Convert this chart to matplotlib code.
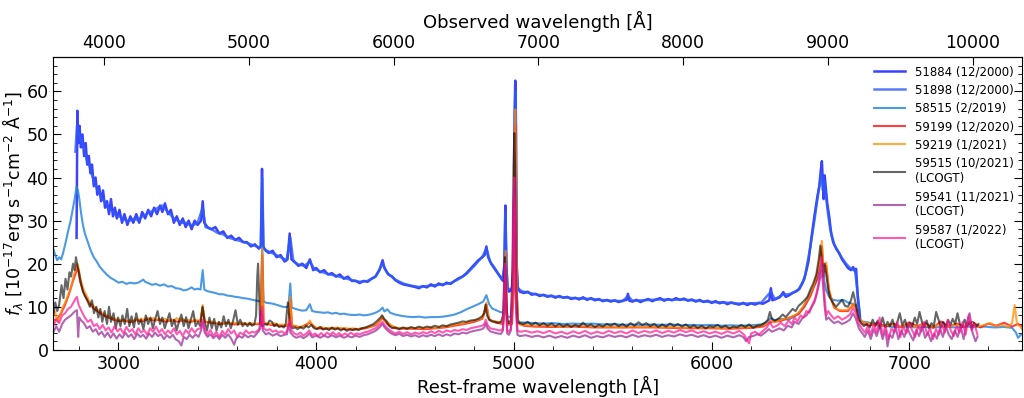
import numpy as np
import matplotlib
matplotlib.use("Agg")
import matplotlib.pyplot as plt
from matplotlib.ticker import MultipleLocator

# redshift used for the observed-frame axis on top
Z = 0.366

# (rest wavelength [A], flux [1e-17 erg/s/cm2/A])
spec_51884 = [
    (2788, 26), (2792, 55.5), (2797, 48), (2803, 52), (2810, 47), (2818, 50), (2826, 45), (2834, 48),
    (2842, 43), (2850, 45), (2858, 41), (2866, 43), (2875, 38), (2884, 40), (2893, 36), (2902, 38),
    (2912, 34.5), (2922, 37), (2932, 33), (2942, 34.5), (2952, 31.5), (2962, 35), (2972, 31), (2982, 33),
    (2992, 30.5), (3005, 32.5), (3018, 29.5), (3030, 31.5), (3045, 29), (3060, 31), (3075, 29.5),
    (3090, 31.5), (3105, 29.5), (3120, 32), (3135, 30.5), (3150, 32.5), (3165, 31), (3180, 33),
    (3195, 31.5), (3210, 33.5), (3222, 32), (3235, 34), (3250, 31.5), (3265, 32.5), (3280, 29.5),
    (3295, 31), (3310, 29), (3325, 30.5), (3340, 28.5), (3355, 30), (3370, 28), (3385, 30), (3400, 29),
    (3418, 30), (3426, 34.5), (3434, 29.5), (3450, 28.5), (3470, 28), (3490, 28.5), (3510, 27),
    (3530, 27.5), (3550, 26), (3570, 26.5), (3590, 25.5), (3610, 26), (3630, 25), (3650, 25),
    (3670, 24), (3690, 24.5), (3710, 23.5), (3720, 24), (3726, 42), (3732, 24), (3745, 23),
    (3760, 22.5), (3780, 23), (3800, 21.5), (3820, 22), (3840, 20.5), (3855, 21), (3866, 27),
    (3875, 21), (3890, 20.5), (3910, 19.5), (3930, 20), (3950, 19), (3968, 21), (3985, 18.5),
    (4000, 19), (4020, 18), (4040, 18.5), (4060, 17.5), (4080, 17.8), (4100, 17), (4120, 17.5),
    (4140, 16.5), (4160, 17), (4180, 16), (4200, 16), (4220, 15.5), (4240, 16), (4260, 15.8),
    (4280, 16.5), (4300, 17), (4320, 18.5), (4336, 20.8), (4345, 19), (4365, 17.5), (4385, 17),
    (4400, 16.2), (4420, 15.6), (4440, 15.2), (4460, 15), (4480, 14.8), (4500, 14.6), (4520, 14.3),
    (4540, 14.8), (4560, 14.5), (4580, 15.2), (4600, 14.7), (4620, 15.4), (4640, 15), (4660, 15.6),
    (4680, 15.3), (4700, 16), (4720, 16.6), (4740, 17), (4760, 17.8), (4780, 18.8), (4800, 19.8),
    (4820, 20.8), (4840, 21.5), (4852, 22), (4861, 24), (4870, 21.5), (4885, 20), (4900, 19),
    (4915, 18), (4930, 17), (4945, 16), (4952, 20), (4957, 33.5), (4962, 20), (4968, 14.5),
    (4975, 13.5), (4990, 14), (5000, 20), (5004, 55), (5007, 62.5), (5010, 55), (5014, 20),
    (5020, 14.5), (5030, 13.5), (5050, 13.2), (5070, 13.5), (5090, 12.8), (5110, 13), (5130, 12.5),
    (5150, 12.8), (5170, 12.3), (5190, 12.6), (5210, 12.1), (5230, 12.5), (5250, 12.1), (5270, 12.3),
    (5290, 11.8), (5310, 12.1), (5330, 11.7), (5350, 12.2), (5370, 11.6), (5390, 12), (5410, 11.5),
    (5430, 11.8), (5450, 11.3), (5470, 11.6), (5490, 11.2), (5510, 11.5), (5530, 11.1), (5550, 11.4),
    (5570, 11.6), (5577, 13), (5584, 11.4), (5600, 11.2), (5620, 11.6), (5640, 11.1), (5660, 11.5),
    (5680, 11.8), (5700, 11.3), (5720, 11.7), (5740, 12), (5760, 11.4), (5780, 11.8), (5800, 11.5),
    (5820, 12), (5840, 11.6), (5860, 11.9), (5880, 11.4), (5900, 11.7), (5920, 11.2), (5940, 11.6),
    (5960, 11.1), (5980, 11.4), (6000, 10.9), (6020, 11.3), (6040, 10.8), (6060, 11.1), (6080, 10.6),
    (6100, 11), (6120, 10.7), (6140, 10.5), (6160, 10.9), (6180, 10.4), (6200, 10.8), (6220, 10.5),
    (6240, 10.9), (6260, 10.7), (6280, 11.2), (6292, 11.5), (6300, 14.3), (6308, 11.5), (6325, 11.8),
    (6345, 12.2), (6363, 13.4), (6375, 12.3), (6390, 12.6), (6410, 13.2), (6430, 13.6), (6445, 14.2),
    (6460, 15.5), (6475, 17.5), (6490, 20.5), (6505, 26), (6520, 31), (6535, 35.5), (6545, 38),
    (6552, 41.5), (6558, 43.8), (6563, 39), (6567, 35), (6572, 40.5), (6577, 38), (6585, 34),
    (6595, 31), (6605, 27), (6615, 25), (6630, 23.5), (6645, 22.5), (6660, 21), (6675, 20),
    (6690, 19), (6705, 18.5), (6716, 19.2), (6725, 18.2), (6731, 18.8), (6740, 12), (6752, 7),
]

spec_51898 = [
    (2782, 46), (2790, 52), (2800, 50), (2812, 48.5), (2825, 47), (2840, 44), (2855, 42.5), (2870, 40),
    (2885, 38), (2900, 37), (2915, 35), (2930, 34.5), (2945, 33), (2960, 32.5), (2975, 32), (2990, 31),
    (3005, 31), (3020, 30.5), (3040, 30), (3060, 30), (3080, 30.5), (3100, 30), (3120, 31), (3140, 31.5),
    (3160, 32), (3180, 32.5), (3200, 33), (3220, 33.5), (3240, 32.5), (3260, 31.5), (3280, 30.5),
    (3300, 30), (3320, 29.5), (3340, 29.5), (3360, 29), (3380, 29), (3400, 29.5), (3426, 33),
    (3440, 28.5), (3470, 28), (3500, 27.2), (3530, 26.8), (3560, 26), (3590, 25.6), (3620, 25.2),
    (3650, 24.8), (3680, 24.3), (3710, 23.8), (3720, 24), (3727, 40), (3734, 23.5), (3760, 22.8),
    (3790, 22.2), (3820, 21.5), (3850, 20.8), (3869, 26), (3885, 20.5), (3910, 19.8), (3940, 19.5),
    (3968, 20.5), (3990, 18.8), (4020, 18.2), (4060, 17.6), (4100, 17.2), (4140, 16.7), (4180, 16.2),
    (4220, 15.8), (4260, 16), (4300, 17), (4336, 20), (4360, 17.8), (4400, 16.3), (4440, 15.4),
    (4480, 14.9), (4520, 14.6), (4560, 14.8), (4600, 15), (4640, 15.2), (4680, 15.5), (4720, 16.4),
    (4760, 17.6), (4800, 19.5), (4840, 21.6), (4861, 23.5), (4880, 20.5), (4910, 18.5), (4940, 16.3),
    (4952, 19), (4957, 32), (4962, 19), (4968, 14), (4990, 14.2), (5000, 19), (5004, 52), (5007, 60),
    (5010, 52), (5014, 19), (5020, 14.3), (5040, 13.6), (5080, 13.2), (5120, 12.8), (5160, 12.6),
    (5200, 12.4), (5250, 12.2), (5300, 12), (5350, 11.9), (5400, 11.8), (5450, 11.5), (5500, 11.4),
    (5550, 11.3), (5577, 12.5), (5600, 11.4), (5650, 11.5), (5700, 11.6), (5750, 11.7), (5800, 11.6),
    (5850, 11.7), (5900, 11.5), (5950, 11.3), (6000, 11.1), (6050, 11), (6100, 10.9), (6150, 10.7),
    (6200, 10.8), (6250, 10.9), (6300, 13.5), (6320, 11.8), (6363, 12.8), (6400, 13), (6440, 14),
    (6470, 16.5), (6500, 24), (6520, 30), (6540, 36.5), (6556, 41), (6563, 37), (6572, 39), (6585, 33),
    (6600, 28), (6620, 24.5), (6650, 22), (6680, 20), (6710, 18.6), (6725, 18.8), (6740, 12.5), (6750, 8),
]

spec_58515 = [
    (2670, 23.5), (2680, 22), (2690, 20.8), (2700, 21.5), (2710, 21), (2720, 22.5), (2733, 25),
    (2745, 27.5), (2758, 30), (2770, 33), (2780, 35.5), (2788, 37.8), (2795, 37), (2802, 35),
    (2810, 32), (2820, 29), (2830, 27), (2845, 25), (2860, 23), (2875, 21.5), (2890, 20.5),
    (2905, 19.3), (2920, 18.5), (2940, 17.5), (2960, 16.7), (2980, 16.2), (3000, 15.6), (3020, 15.8),
    (3040, 15.3), (3060, 15.6), (3080, 15.4), (3100, 15.6), (3115, 16), (3125, 16.3), (3135, 15.8),
    (3150, 15.5), (3170, 15.1), (3190, 15.3), (3210, 14.9), (3230, 15.2), (3250, 14.7), (3270, 14.8),
    (3290, 14.3), (3310, 14.2), (3330, 13.8), (3350, 14), (3370, 14.5), (3385, 14), (3400, 14.2),
    (3415, 14), (3426, 18.5), (3434, 14), (3450, 13.6), (3470, 13.4), (3490, 13.2), (3510, 12.9),
    (3530, 12.9), (3550, 12.6), (3570, 12.5), (3590, 12.3), (3610, 12.2), (3630, 12), (3650, 11.9),
    (3670, 11.7), (3690, 11.5), (3710, 11.3), (3720, 11.3), (3727, 24), (3734, 11.2), (3750, 10.9),
    (3770, 10.8), (3790, 10.6), (3810, 10.3), (3830, 10), (3850, 9.9), (3860, 10.2), (3869, 15.4),
    (3876, 9.8), (3890, 9.6), (3910, 9.3), (3930, 9.1), (3950, 9.2), (3968, 10.6), (3980, 9),
    (4000, 8.8), (4020, 8.7), (4040, 8.6), (4060, 8.7), (4080, 8.4), (4100, 8.6), (4120, 8.3),
    (4140, 8.4), (4160, 8.2), (4180, 8.1), (4200, 8.1), (4220, 8.2), (4240, 8), (4260, 8.1),
    (4280, 8.3), (4300, 8.6), (4320, 9.1), (4336, 9.8), (4345, 8.9), (4360, 9.4), (4375, 8.6),
    (4400, 8.2), (4430, 7.9), (4460, 7.7), (4490, 7.6), (4520, 7.7), (4550, 7.5), (4580, 7.6),
    (4610, 7.6), (4640, 7.7), (4670, 7.9), (4700, 8.2), (4730, 8.7), (4760, 9.4), (4790, 10),
    (4820, 10.6), (4845, 11.2), (4861, 12.7), (4875, 10.6), (4890, 9.6), (4910, 9.2), (4930, 8.8),
    (4945, 8.6), (4952, 10), (4958, 19), (4964, 9), (4970, 7.5), (4985, 7.8), (5000, 15), (5004, 40),
    (5007, 50), (5010, 40), (5014, 15), (5020, 7), (5030, 6.4), (5060, 6.3), (5100, 6.2), (5150, 6.1),
    (5200, 6.2), (5250, 6), (5300, 6.1), (5350, 6), (5400, 6.1), (5450, 5.9), (5500, 6), (5550, 5.8),
    (5600, 5.9), (5650, 5.7), (5700, 5.9), (5750, 5.8), (5800, 5.9), (5850, 5.7), (5900, 5.8),
    (5950, 5.7), (6000, 5.8), (6050, 5.6), (6100, 5.7), (6150, 5.6), (6200, 5.7), (6250, 5.9),
    (6280, 6.4), (6300, 7.4), (6320, 6.8), (6350, 7.2), (6390, 7), (6420, 7.8), (6440, 8.5),
    (6465, 10), (6490, 12.3), (6515, 14.6), (6540, 16.9), (6555, 19.8), (6562, 20), (6570, 16),
    (6580, 13.8), (6595, 12.3), (6615, 11.6), (6640, 11.4), (6666, 11.6), (6690, 11), (6716, 10.6),
    (6730, 10.4), (6742, 7.5), (6760, 6.6), (6790, 6.4), (6830, 5.8), (6880, 5.5), (6930, 5.3),
    (6980, 5.4), (7030, 5.2), (7080, 5.3), (7130, 5.2), (7180, 5.4), (7230, 5.2), (7280, 5.4),
    (7330, 5.3), (7380, 5.4), (7430, 5.2), (7480, 5.3), (7520, 5.1), (7540, 4), (7550, 2.8), (7565, 3.5),
]

spec_59199 = [
    (2670, 6.8), (2690, 7.2), (2710, 8.5), (2730, 10.5), (2750, 13), (2770, 16), (2785, 18),
    (2793, 19.5), (2805, 16), (2820, 13.8), (2840, 11.8), (2860, 10.3), (2880, 9.4), (2900, 8.8),
    (2925, 8), (2950, 7.5), (2975, 7), (3000, 6.7), (3030, 6.8), (3060, 6.4), (3090, 6.9), (3120, 6.6),
    (3150, 7.2), (3180, 6.8), (3210, 7), (3240, 6.5), (3270, 6.9), (3300, 6.5), (3330, 6.9), (3360, 6.4),
    (3390, 6.8), (3415, 6.7), (3426, 9.8), (3436, 6.5), (3470, 6.3), (3510, 6), (3550, 6.2), (3590, 5.9),
    (3630, 6.1), (3670, 5.9), (3710, 6), (3720, 6.3), (3727, 22), (3734, 6.2), (3770, 5.8), (3810, 5.6),
    (3850, 5.5), (3860, 5.8), (3869, 11.5), (3878, 5.6), (3920, 5.2), (3968, 6.3), (4000, 5),
    (4050, 4.9), (4100, 5), (4150, 4.8), (4200, 4.7), (4250, 5), (4300, 5.7), (4336, 7.4), (4360, 6),
    (4400, 5), (4450, 4.9), (4500, 4.9), (4550, 4.8), (4600, 5), (4650, 5.2), (4700, 5.6), (4750, 6),
    (4800, 6.5), (4840, 7.2), (4861, 10.5), (4875, 7), (4910, 6.3), (4945, 6), (4952, 8.5), (4958, 22),
    (4964, 8.5), (4970, 5.8), (4990, 6), (5000, 14), (5004, 42), (5007, 52), (5010, 42), (5014, 14),
    (5020, 6.2), (5050, 5.6), (5100, 5.4), (5200, 5.3), (5300, 5.4), (5400, 5.2), (5500, 5.2),
    (5600, 5.2), (5700, 5.2), (5800, 5.1), (5900, 5), (6000, 5), (6100, 4.9), (6200, 5.1), (6260, 5.4),
    (6300, 6.5), (6350, 6.7), (6400, 7.6), (6440, 8.3), (6470, 10), (6500, 12.5), (6530, 16),
    (6550, 21), (6558, 24), (6565, 19.5), (6580, 19.5), (6595, 13.5), (6620, 9.8), (6650, 9),
    (6690, 9), (6716, 10.5), (6730, 9.8), (6745, 7), (6770, 6), (6800, 5.6), (6840, 6.3), (6880, 5.4),
    (6920, 6.1), (6960, 5.2), (7000, 6.4), (7040, 5.5), (7080, 6.2), (7120, 5.1), (7160, 6.6),
    (7200, 5.4), (7240, 6.1), (7280, 5.3), (7320, 6.5), (7360, 5.2), (7400, 6.1), (7440, 5.6),
    (7480, 6.3), (7520, 5.4), (7550, 6), (7570, 5.5),
]

spec_59219 = [
    (2670, 7.6), (2678, 9), (2686, 7.5), (2695, 6.5), (2705, 8), (2715, 9.5), (2725, 10.5), (2735, 11.5),
    (2745, 12.8), (2755, 13.8), (2765, 15.5), (2775, 17.5), (2785, 19), (2793, 20), (2800, 18.5),
    (2808, 16.3), (2818, 14.8), (2828, 13.5), (2840, 12.5), (2852, 11.3), (2865, 10.6), (2878, 10),
    (2890, 9.5), (2905, 9), (2920, 8.5), (2935, 8), (2950, 7.8), (2965, 7.5), (2980, 7.2), (2995, 7),
    (3010, 6.8), (3025, 7), (3040, 6.6), (3055, 6.9), (3070, 6.5), (3085, 7.2), (3100, 6.8), (3115, 7.3),
    (3130, 6.9), (3145, 7.5), (3160, 7.1), (3175, 7.4), (3190, 6.9), (3205, 7.3), (3220, 6.8),
    (3235, 7.2), (3250, 6.7), (3265, 7.1), (3280, 6.7), (3295, 7.4), (3310, 6.8), (3325, 7.2),
    (3340, 6.6), (3355, 7), (3370, 6.5), (3385, 7.1), (3400, 6.6), (3415, 7), (3426, 10.4), (3436, 6.8),
    (3450, 6.4), (3470, 6.6), (3490, 6.2), (3510, 6.3), (3530, 6.1), (3550, 6.4), (3570, 6.1),
    (3590, 6.3), (3610, 6), (3630, 6.3), (3650, 6), (3670, 6.2), (3690, 6), (3710, 6.2), (3720, 6.5),
    (3727, 23.5), (3734, 6.5), (3750, 6.1), (3770, 6), (3790, 6.2), (3810, 5.8), (3830, 5.9),
    (3850, 5.6), (3860, 6), (3869, 12.3), (3878, 5.8), (3895, 5.5), (3915, 5.3), (3935, 5.5),
    (3950, 5.4), (3968, 6.8), (3985, 5.3), (4005, 5.1), (4025, 5.3), (4045, 5), (4065, 5.1),
    (4085, 4.9), (4105, 5.2), (4125, 5), (4145, 5.1), (4165, 4.9), (4185, 5), (4205, 4.8), (4225, 5),
    (4245, 5.1), (4265, 5.3), (4285, 5.6), (4305, 6), (4320, 6.8), (4336, 7.8), (4345, 6.8),
    (4360, 6.4), (4380, 5.7), (4400, 5.2), (4430, 5), (4460, 5.1), (4490, 5), (4520, 5.1), (4550, 5),
    (4580, 5.2), (4610, 5.1), (4640, 5.4), (4670, 5.5), (4700, 5.8), (4730, 6.1), (4760, 6.3),
    (4790, 6.7), (4820, 7), (4845, 7.5), (4861, 11), (4872, 7.3), (4890, 6.7), (4910, 6.6),
    (4930, 6.4), (4945, 6.2), (4952, 9), (4958, 23), (4964, 9), (4970, 6), (4985, 6.2), (5000, 15),
    (5004, 45), (5007, 55.8), (5010, 45), (5014, 15), (5020, 6.5), (5030, 5.9), (5060, 5.8),
    (5100, 5.6), (5150, 5.7), (5200, 5.5), (5250, 5.4), (5300, 5.6), (5350, 5.5), (5400, 5.4),
    (5450, 5.3), (5500, 5.4), (5550, 5.2), (5600, 5.4), (5650, 5.3), (5700, 5.4), (5750, 5.2),
    (5800, 5.3), (5850, 5.1), (5900, 5.2), (5950, 5.1), (6000, 5.2), (6050, 5), (6100, 5.1),
    (6150, 5.2), (6200, 5.3), (6250, 5.6), (6280, 6), (6300, 6.8), (6320, 6.4), (6350, 7), (6390, 7.4),
    (6420, 8), (6440, 8.6), (6465, 10.2), (6490, 12.3), (6515, 14.6), (6540, 19), (6552, 23),
    (6558, 25.3), (6565, 20), (6572, 18), (6580, 20.3), (6590, 15), (6605, 12), (6620, 10),
    (6640, 9.3), (6660, 9.2), (6690, 9.3), (6705, 9.8), (6716, 10.8), (6730, 10), (6742, 7.5),
    (6760, 6.5), (6790, 6.2), (6830, 5.8), (6870, 5.5), (6910, 5.9), (6950, 5.4), (6990, 5.7),
    (7030, 5.3), (7070, 5.8), (7110, 5.4), (7150, 5.7), (7190, 5.3), (7230, 5.8), (7270, 5.5),
    (7310, 5.9), (7350, 5.4), (7380, 5.8), (7410, 6.2), (7440, 5.5), (7470, 5.8), (7500, 5.3),
    (7520, 6.2), (7533, 10.4), (7545, 6), (7560, 5.5), (7570, 4.8),
]

spec_59515 = [
    (2670, 8), (2680, 11), (2690, 9), (2700, 10.5), (2712, 15), (2722, 12), (2732, 16.5), (2742, 14),
    (2752, 18), (2760, 17), (2770, 20), (2778, 18.5), (2785, 21.5), (2792, 19.5), (2800, 18),
    (2810, 15.5), (2820, 13.5), (2830, 12.5), (2842, 11.5), (2855, 10), (2866, 11.5), (2876, 8.5),
    (2888, 10), (2898, 7.5), (2908, 9.5), (2918, 6.5), (2930, 9), (2942, 6), (2952, 10), (2962, 6.5),
    (2975, 8.5), (2986, 5), (2998, 7.5), (3010, 5.5), (3020, 8), (3032, 6), (3044, 9.5), (3055, 5.5),
    (3066, 7.8), (3078, 5.2), (3090, 8.5), (3102, 6), (3114, 7), (3126, 4.8), (3138, 8), (3150, 6),
    (3162, 7.5), (3174, 5), (3186, 7.2), (3198, 9), (3210, 6), (3222, 7.5), (3234, 5), (3246, 6.8),
    (3258, 8.5), (3270, 5.5), (3282, 7), (3294, 4.5), (3306, 6.5), (3318, 8.2), (3330, 5.5),
    (3342, 7.6), (3354, 5), (3366, 7), (3378, 9), (3390, 5.5), (3402, 6.5), (3414, 5.5), (3425, 10),
    (3436, 6.5), (3448, 4.5), (3460, 7.5), (3472, 5), (3484, 7.2), (3496, 4.5), (3508, 6.5),
    (3520, 5.2), (3532, 7.8), (3544, 5.5), (3556, 7), (3568, 5), (3580, 6.8), (3592, 9.2), (3604, 5.8),
    (3616, 7), (3628, 5.5), (3640, 6.2), (3652, 5.5), (3664, 6.3), (3676, 5.6), (3688, 6), (3696, 8),
    (3702, 17), (3706, 20), (3710, 15), (3716, 6.5), (3728, 5.5), (3740, 6), (3752, 5.8), (3764, 6.8),
    (3776, 6.5), (3788, 5.5), (3800, 6), (3812, 5.3), (3824, 5.5), (3836, 5.2), (3846, 6), (3852, 9),
    (3857, 11), (3862, 8.5), (3870, 5.5), (3882, 5), (3894, 5.2), (3906, 4.8), (3920, 5.3),
    (3935, 4.9), (3950, 5.6), (3962, 5.2), (3975, 5.8), (3990, 5), (4005, 4.8), (4020, 5.3),
    (4035, 4.7), (4050, 5), (4065, 4.6), (4080, 5.2), (4095, 4.7), (4110, 5), (4125, 4.5), (4140, 4.9),
    (4155, 4.4), (4170, 4.8), (4185, 4.6), (4200, 4.9), (4215, 4.6), (4230, 5), (4250, 5.2),
    (4270, 5.6), (4290, 6), (4310, 6.8), (4325, 7.5), (4333, 8), (4342, 7.3), (4355, 6.7), (4370, 5.5),
    (4385, 5), (4400, 5.2), (4420, 4.8), (4440, 5.2), (4460, 4.9), (4480, 5.3), (4500, 5), (4520, 5.4),
    (4540, 5.1), (4560, 5.4), (4580, 5.2), (4600, 5.6), (4620, 5.3), (4640, 5.7), (4660, 5.5),
    (4680, 5.9), (4700, 6.1), (4720, 6.3), (4740, 6.6), (4760, 6.5), (4780, 6.8), (4800, 6.9),
    (4820, 7.2), (4840, 7.8), (4850, 8.5), (4857, 10.5), (4864, 8), (4876, 7), (4890, 6.6),
    (4905, 6.5), (4920, 6.3), (4935, 6.5), (4945, 8), (4950, 15), (4955, 21.5), (4960, 14), (4966, 7),
    (4975, 6.2), (4985, 7), (4993, 20), (4998, 42), (5002, 50.3), (5006, 42), (5011, 15), (5018, 6.5),
    (5030, 6.2), (5050, 6), (5070, 6.5), (5090, 5.8), (5110, 6.3), (5130, 5.7), (5150, 6.2),
    (5170, 5.6), (5190, 6.1), (5210, 5.5), (5230, 6), (5250, 5.4), (5270, 5.9), (5290, 5.3),
    (5310, 5.8), (5330, 5.4), (5350, 6.3), (5370, 5.5), (5390, 5.9), (5410, 5.3), (5430, 5.8),
    (5450, 5.4), (5470, 6), (5490, 5.6), (5510, 6.1), (5530, 5.5), (5550, 6), (5570, 5.4), (5590, 6.2),
    (5610, 5.6), (5630, 6.4), (5650, 5.8), (5670, 6.2), (5690, 5.5), (5710, 6), (5730, 5.3),
    (5750, 5.9), (5770, 5.4), (5790, 6.1), (5810, 5.5), (5830, 6), (5850, 5.4), (5870, 5.9),
    (5890, 5.2), (5910, 5.7), (5930, 5.1), (5950, 5.6), (5970, 5), (5990, 5.5), (6010, 5.3),
    (6030, 5.8), (6050, 5.2), (6070, 5.6), (6090, 5), (6110, 5.4), (6130, 5.2), (6150, 5.8),
    (6170, 5.3), (6190, 5.9), (6210, 5.1), (6230, 5.6), (6250, 5.7), (6270, 6.3), (6285, 7),
    (6295, 8.8), (6305, 7.2), (6320, 6.8), (6340, 7.3), (6360, 8.2), (6375, 7.6), (6390, 8.4),
    (6410, 9.5), (6425, 9), (6440, 10.2), (6455, 10.8), (6470, 11.5), (6485, 12.3), (6500, 14),
    (6515, 15.5), (6530, 17.5), (6542, 21), (6550, 24.2), (6558, 21), (6565, 17), (6572, 20),
    (6580, 17.5), (6590, 14), (6600, 12), (6615, 10.8), (6630, 10), (6645, 10.8), (6660, 11.6),
    (6675, 10.2), (6690, 10), (6705, 11.5), (6716, 13.4), (6728, 11), (6742, 7.5), (6755, 6.2),
    (6770, 5.5), (6785, 6), (6800, 5.2), (6815, 7), (6828, 5.5), (6840, 6.8), (6852, 5), (6865, 7.5),
    (6878, 5.2), (6890, 6.5), (6902, 5.5), (6915, 7), (6928, 5.2), (6940, 6.5), (6952, 8.5),
    (6965, 5.6), (6978, 7), (6990, 5.2), (7002, 6.2), (7015, 5.5), (7028, 7.5), (7040, 6), (7052, 8.8),
    (7064, 6.5), (7076, 5.3), (7088, 6.8), (7100, 5), (7112, 6.2), (7124, 5.5), (7136, 8.8), (7148, 7),
    (7160, 5.3), (7172, 6.5), (7184, 5.2), (7196, 6.9), (7208, 5.8), (7220, 7.2), (7232, 6),
    (7244, 8.5), (7256, 6), (7268, 5.3), (7280, 7), (7292, 5.5), (7304, 6.6), (7316, 5), (7328, 6.2),
    (7340, 5.5), (7350, 6),
]

spec_59541 = [
    (2670, 4), (2685, 5.5), (2700, 4.2), (2715, 6), (2730, 7), (2745, 7.5), (2760, 8), (2772, 8.6),
    (2782, 9), (2790, 9.2), (2796, 3), (2802, 7.5), (2812, 6.8), (2825, 6.2), (2840, 5), (2855, 5.5),
    (2870, 4.2), (2885, 4.8), (2900, 3.5), (2915, 4.2), (2930, 3), (2945, 4), (2960, 2.8), (2975, 3.8),
    (2990, 2.6), (3005, 3.6), (3020, 2.8), (3035, 4), (3050, 3), (3065, 3.6), (3080, 2.5), (3095, 3.8),
    (3110, 3), (3125, 3.5), (3140, 2.6), (3155, 3.8), (3170, 3), (3185, 4), (3200, 3.2), (3215, 3.6),
    (3230, 2.5), (3245, 3.4), (3260, 2.8), (3275, 3.5), (3290, 2.4), (3305, 2), (3318, 1), (3330, 3),
    (3345, 2.5), (3360, 3.5), (3375, 2.8), (3390, 3.6), (3405, 3), (3418, 4.5), (3426, 6.5),
    (3436, 4), (3450, 3), (3465, 3.6), (3480, 2.7), (3495, 3.4), (3510, 2.5), (3525, 3.5), (3540, 2.8),
    (3555, 3.6), (3570, 2.6), (3585, 1.2), (3595, 2.6), (3610, 3.2), (3625, 2.8), (3640, 3.5),
    (3655, 2.9), (3670, 3.3), (3685, 3), (3700, 3.8), (3712, 4.5), (3722, 9), (3730, 4.5), (3745, 3.6),
    (3760, 3.9), (3780, 3.3), (3800, 3.7), (3820, 3.2), (3840, 3.5), (3852, 3.6), (3862, 6), (3870, 4),
    (3885, 3.2), (3900, 2.8), (3920, 3.2), (3935, 2.7), (3950, 3.1), (3965, 3.8), (3980, 2.9),
    (4000, 3.3), (4020, 2.8), (4040, 3.3), (4060, 2.9), (4080, 3.4), (4100, 2.9), (4120, 3.3),
    (4140, 2.8), (4160, 3.2), (4180, 2.9), (4200, 3.3), (4220, 3), (4240, 3.4), (4260, 3.6), (4280, 4),
    (4300, 4.4), (4320, 5.2), (4335, 6), (4345, 5.3), (4360, 4.5), (4380, 3.8), (4400, 3.4),
    (4420, 3.7), (4440, 3.2), (4460, 3.5), (4480, 3.1), (4500, 3.4), (4520, 3), (4540, 3.4),
    (4560, 3.1), (4580, 3.5), (4600, 3.2), (4620, 3.6), (4640, 3.2), (4660, 3.6), (4680, 3.3),
    (4700, 3.8), (4720, 3.6), (4740, 4), (4760, 3.8), (4780, 4.2), (4800, 4.4), (4820, 4.6),
    (4840, 4.8), (4850, 5.2), (4858, 6.2), (4866, 5), (4880, 4.3), (4900, 4), (4920, 3.8), (4935, 3.7),
    (4945, 4.5), (4950, 11), (4955, 19), (4960, 11), (4966, 3.8), (4975, 3.5), (4985, 4.5), (4993, 14),
    (4998, 30), (5002, 38), (5006, 30), (5011, 9), (5018, 3.5), (5030, 3.2), (5060, 3.4), (5090, 3),
    (5120, 3.3), (5150, 2.9), (5180, 3.3), (5210, 2.8), (5240, 3.2), (5270, 2.8), (5300, 3.3),
    (5330, 2.9), (5360, 3.4), (5390, 2.8), (5420, 3.2), (5450, 2.9), (5480, 3.4), (5510, 3),
    (5540, 3.3), (5570, 2.9), (5600, 3.5), (5630, 3), (5660, 3.4), (5690, 3.1), (5720, 3.5), (5750, 3),
    (5780, 3.4), (5810, 3.1), (5840, 3.6), (5870, 3.2), (5900, 3.5), (5930, 3), (5960, 3.4),
    (5990, 2.9), (6020, 3.3), (6050, 2.8), (6080, 3.3), (6110, 2.9), (6140, 3.4), (6160, 3),
    (6175, 2), (6190, 3), (6210, 3.2), (6230, 3.6), (6250, 3.3), (6270, 4), (6290, 4.8), (6305, 4.2),
    (6325, 4.6), (6345, 5), (6365, 4.5), (6385, 5.6), (6405, 5.2), (6420, 6.5), (6440, 6), (6460, 7.4),
    (6480, 8), (6500, 9.5), (6520, 11), (6535, 13.5), (6548, 16.5), (6556, 18.5), (6564, 15),
    (6572, 10), (6580, 7), (6592, 7.5), (6605, 6.8), (6620, 6.2), (6640, 6.6), (6660, 6), (6680, 6.4),
    (6700, 7), (6716, 8.5), (6730, 7.2), (6745, 5), (6760, 4), (6775, 3), (6790, 4.5), (6805, 2.5),
    (6820, 4.8), (6835, 3.2), (6850, 5.5), (6865, 2.5), (6880, 4.5), (6890, 0.8), (6900, 3.5),
    (6915, 2.8), (6930, 5.5), (6945, 2.5), (6960, 4.5), (6975, 3), (6990, 5), (7005, 3.5), (7020, 2.2),
    (7035, 4.6), (7050, 3.2), (7065, 5.5), (7080, 2.8), (7095, 4), (7110, 2), (7125, 3.8), (7140, 2.6),
    (7155, 5), (7170, 3), (7185, 5.5), (7200, 3.5), (7215, 2.5), (7230, 4.5), (7245, 3), (7260, 5.5),
    (7275, 2.5), (7290, 6), (7305, 8.5), (7320, 4), (7335, 2), (7345, 3),
]

spec_59587 = [
    (2670, 5.5), (2685, 7), (2700, 6.2), (2715, 8), (2730, 8.5), (2745, 9.5), (2760, 10), (2772, 11),
    (2782, 11.8), (2790, 12.3), (2798, 10.5), (2808, 9.5), (2818, 8.5), (2830, 7.5), (2845, 6.5),
    (2860, 7), (2875, 5.5), (2890, 6), (2905, 4.8), (2920, 5.8), (2935, 4.5), (2950, 5.2), (2965, 4),
    (2980, 5.5), (2995, 4.3), (3010, 5), (3025, 3.8), (3040, 5.3), (3055, 4.2), (3070, 4.8),
    (3085, 3.6), (3100, 5), (3115, 4), (3130, 4.6), (3145, 3.5), (3160, 5), (3175, 4.2), (3190, 5.4),
    (3205, 4), (3220, 4.8), (3235, 3.6), (3250, 4.5), (3265, 3.8), (3280, 5), (3295, 3.6), (3310, 4.4),
    (3325, 3.2), (3340, 4.6), (3355, 3.8), (3370, 5), (3385, 4), (3400, 4.8), (3415, 5), (3426, 7),
    (3436, 5), (3450, 3.5), (3465, 4.6), (3480, 3.2), (3495, 4.2), (3510, 3), (3525, 4.4), (3540, 3.5),
    (3555, 4.8), (3570, 3.8), (3585, 4.5), (3600, 3), (3615, 4), (3630, 3.6), (3645, 4.5), (3660, 3.8),
    (3675, 4.2), (3690, 4), (3705, 4.5), (3718, 5), (3727, 10), (3735, 5), (3750, 4.5), (3765, 4.8),
    (3780, 4.2), (3795, 4.5), (3810, 4), (3825, 4.3), (3840, 3.8), (3850, 4.2), (3860, 5.5), (3867, 7),
    (3875, 4.5), (3890, 3.8), (3905, 3.5), (3920, 4), (3935, 3.3), (3950, 3.8), (3965, 4.5),
    (3980, 3.4), (3995, 3.8), (4010, 3.2), (4025, 3.9), (4040, 3.3), (4055, 4), (4070, 3.5),
    (4085, 4.1), (4100, 3.4), (4115, 3.9), (4130, 3.3), (4145, 3.8), (4160, 3.4), (4175, 4),
    (4190, 3.5), (4205, 3.8), (4220, 3.6), (4240, 4), (4260, 4.2), (4280, 4.6), (4300, 5), (4320, 5.8),
    (4335, 6.5), (4345, 5.8), (4360, 5), (4380, 4.3), (4400, 3.8), (4420, 4.2), (4440, 3.7),
    (4460, 4.1), (4480, 3.6), (4500, 4), (4520, 3.7), (4540, 4.1), (4560, 3.8), (4580, 4.3),
    (4600, 3.9), (4620, 4.4), (4640, 4), (4660, 4.5), (4680, 4.2), (4700, 4.6), (4720, 4.4),
    (4740, 4.8), (4760, 4.6), (4780, 5), (4800, 5.2), (4820, 5.4), (4840, 5.6), (4850, 6), (4858, 7),
    (4866, 5.8), (4880, 5), (4900, 4.8), (4920, 4.6), (4935, 4.5), (4945, 5), (4950, 12), (4955, 20),
    (4960, 12), (4966, 4.5), (4975, 4.2), (4985, 5), (4993, 15), (4998, 32), (5002, 40), (5006, 32),
    (5011, 10), (5018, 4.5), (5030, 4.2), (5060, 4.4), (5090, 4), (5120, 4.3), (5150, 3.9),
    (5180, 4.4), (5210, 3.8), (5240, 4.2), (5270, 3.7), (5300, 4.3), (5330, 3.8), (5360, 4.4),
    (5390, 3.7), (5420, 4.2), (5450, 3.8), (5480, 4.4), (5510, 3.9), (5540, 4.3), (5570, 3.8),
    (5600, 4.5), (5630, 3.9), (5660, 4.4), (5690, 4), (5720, 4.5), (5750, 3.9), (5780, 4.4), (5810, 4),
    (5840, 4.6), (5870, 4.1), (5900, 4.5), (5930, 3.9), (5960, 4.3), (5990, 3.8), (6020, 4.2),
    (6050, 3.7), (6080, 4.3), (6110, 3.8), (6140, 4.4), (6165, 3.5), (6180, 2.2), (6190, 1.5),
    (6200, 3.8), (6220, 4.2), (6240, 3.6), (6260, 4.4), (6280, 5.2), (6295, 6.5), (6310, 5.2),
    (6330, 5.6), (6350, 6.3), (6370, 5.5), (6390, 6.8), (6405, 6), (6420, 7.5), (6435, 6.6), (6450, 8),
    (6465, 7.5), (6480, 9), (6495, 8.6), (6510, 10.5), (6525, 12), (6540, 15), (6550, 18.5),
    (6558, 21.5), (6565, 17), (6572, 12), (6580, 8), (6590, 9), (6605, 8), (6620, 7.2), (6640, 7.8),
    (6660, 7), (6680, 7.5), (6700, 8.2), (6716, 9.7), (6730, 8.5), (6745, 6), (6760, 5), (6775, 4),
    (6790, 5.5), (6805, 3.5), (6820, 6), (6835, 4), (6850, 7.5), (6865, 3.5), (6880, 5.5), (6895, 2.5),
    (6910, 5), (6925, 4), (6940, 6.5), (6955, 3), (6970, 5.5), (6985, 3.8), (7000, 6), (7015, 4.5),
    (7030, 3), (7045, 5.5), (7060, 4.2), (7075, 6.5), (7090, 3.5), (7105, 5), (7120, 2.5), (7135, 4.8),
    (7150, 3.5), (7165, 6), (7180, 4), (7195, 7), (7210, 4.5), (7225, 3.2), (7240, 5.5), (7255, 4),
    (7270, 6.5), (7285, 3.5), (7300, 8), (7315, 4.5), (7330, 6), (7345, 3.5),
]

labels = [
    "51884 (12/2000)", "51898 (12/2000)", "58515 (2/2019)", "59199 (12/2020)",
    "59219 (1/2021)", "59515 (10/2021)\n(LCOGT)", "59541 (11/2021)\n(LCOGT)",
    "59587 (1/2022)\n(LCOGT)",
]
obs_ticks = [4000, 5000, 6000, 7000, 8000, 9000, 10000]

spectra = [spec_51884, spec_51898, spec_58515, spec_59199,
           spec_59219, spec_59515, spec_59541, spec_59587]
colors = ["#0a14ff", "#2f5cf7", "#2c88e0", "red", "darkorange", "black", "purple", "deeppink"]
alphas = [0.8, 0.8, 0.85, 0.75, 0.75, 0.6, 0.6, 0.7]
widths = [1.8, 1.8, 1.5, 1.5, 1.5, 1.5, 1.5, 1.5]

fig = plt.figure(figsize=(10.24, 3.98), dpi=100)
ax = fig.add_axes([0.052, 0.121, 0.946, 0.736])

for spec, lab, col, al, lw in zip(spectra, labels, colors, alphas, widths):
    wl, fl = np.array(spec).T
    ax.plot(wl, fl, color=col, alpha=al, lw=lw, label=lab)

ax.set_xlim(2670, 7570)
ax.set_ylim(0, 68)
ax.xaxis.set_major_locator(MultipleLocator(1000))
ax.xaxis.set_minor_locator(MultipleLocator(200))
ax.yaxis.set_major_locator(MultipleLocator(10))
ax.yaxis.set_minor_locator(MultipleLocator(2))
ax.tick_params(which="both", direction="in", top=False, right=True, labelsize=12.5)
ax.tick_params(which="major", length=6)
ax.tick_params(which="minor", length=3)

ax.set_xlabel("Rest-frame wavelength [Å]", fontsize=13, labelpad=2)
ax.set_ylabel(r"$f_\lambda$ [10$^{-17}$erg s$^{-1}$cm$^{-2}$ Å$^{-1}$]", fontsize=12.5, labelpad=0)

top = ax.secondary_xaxis("top", functions=(lambda x: x * (1 + Z), lambda x: x / (1 + Z)))
top.set_xticks(obs_ticks)
top.tick_params(direction="in", length=6, labelsize=12.5)
top.set_xlabel("Observed wavelength [Å]", fontsize=13, labelpad=4)

ax.legend(loc="upper right", frameon=False, fontsize=8.5, handlelength=2.6,
          borderaxespad=0.3, labelspacing=0.45)

fig.savefig("out.png", dpi=100)
